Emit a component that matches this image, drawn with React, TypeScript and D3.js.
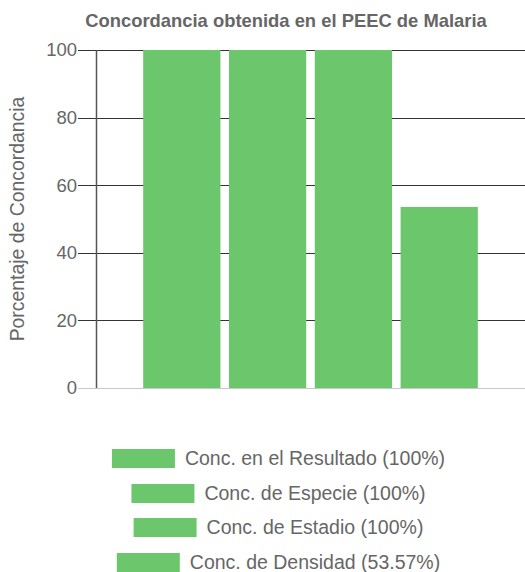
import React, { useEffect, useRef } from 'react';
import * as d3 from 'd3';

const seriesLabels = [
  'Conc. en el Resultado (100%)',
  'Conc. de Especie (100%)',
  'Conc. de Estadio (100%)',
  'Conc. de Densidad (53.57%)',
];
const seriesValues = [100, 100, 100, 53.57];
const yTicks = [0, 20, 40, 60, 80, 100];

const width = 525;
const height = 572;

const App: React.FC = () => {
  const svgRef = useRef<SVGSVGElement>(null);

  useEffect(() => {
    if (!svgRef.current) return;
    const svg = d3.select(svgRef.current);
    svg.selectAll('*').remove();

    const left = 96;
    const right = 525;
    const top = 50;
    const bottom = 388;
    const font = 'Arial, "Liberation Sans", sans-serif';
    const grey = '#666';
    const green = '#6cc76c';

    const y = d3.scaleLinear().domain([0, 100]).range([bottom, top]);
    // one category, grouped datasets (categoryPercentage 0.8, barPercentage 0.9)
    const catW = right - left;
    const x = d3.scaleBand<string>()
      .domain(seriesLabels)
      .range([left + catW * 0.1, right - catW * 0.1])
      .paddingInner(0.1)
      .paddingOuter(0.05);

    // title
    svg.append('text')
      .attr('x', 286)
      .attr('y', 27)
      .attr('text-anchor', 'middle')
      .style('font', `bold 18.4px ${font}`)
      .attr('fill', grey)
      .text('Concordancia obtenida en el PEEC de Malaria');

    // gridlines
    svg.append('g')
      .selectAll('line')
      .data(yTicks)
      .join('line')
      .attr('x1', left - 18)
      .attr('x2', right)
      .attr('y1', d => Math.round(y(d)) + 0.5)
      .attr('y2', d => Math.round(y(d)) + 0.5)
      .attr('stroke', d => (d === 0 ? '#c8c8c8' : '#333'))
      .attr('stroke-width', 1);

    // y axis line
    svg.append('line')
      .attr('x1', left + 0.5)
      .attr('x2', left + 0.5)
      .attr('y1', top)
      .attr('y2', bottom)
      .attr('stroke', '#555')
      .attr('stroke-width', 1.5);

    // tick labels
    svg.append('g')
      .selectAll('text')
      .data(yTicks)
      .join('text')
      .attr('x', left - 19)
      .attr('y', d => y(d))
      .attr('dy', '0.35em')
      .attr('text-anchor', 'end')
      .style('font', `18.5px ${font}`)
      .attr('fill', grey)
      .text(d => d);

    // y label
    svg.append('text')
      .attr('transform', `translate(24,${(top + bottom) / 2}) rotate(-90)`)
      .attr('text-anchor', 'middle')
      .style('font', `19.4px ${font}`)
      .attr('fill', grey)
      .text('Porcentaje de Concordancia');

    // bars
    svg.append('g')
      .selectAll('rect')
      .data(seriesValues)
      .join('rect')
      .attr('x', (d, i) => x(seriesLabels[i])!)
      .attr('y', d => y(d))
      .attr('width', x.bandwidth())
      .attr('height', d => bottom - y(d))
      .attr('fill', green);

    // legend
    const legend = svg.append('g');
    const rowY = [458, 493, 527, 562];
    const boxW = 63;
    const gap = 10;
    const cx = 278.5;
    seriesLabels.forEach((label, i) => {
      const t = legend.append('text')
        .attr('y', rowY[i])
        .attr('dy', '0.35em')
        .style('font', `19.5px ${font}`)
        .attr('fill', grey)
        .text(label);
      const tw = (t.node() as SVGTextElement).getComputedTextLength();
      const total = boxW + gap + tw;
      const x0 = cx - total / 2;
      t.attr('x', x0 + boxW + gap);
      legend.append('rect')
        .attr('x', x0)
        .attr('y', rowY[i] - 9)
        .attr('width', boxW)
        .attr('height', 19)
        .attr('fill', green);
    });
  }, []);

  return (
    <svg
      ref={svgRef}
      width={width}
      height={height}
      style={{ position: 'absolute', left: 0, top: 0, background: '#fff' }}
    />
  );
};

export default App;
